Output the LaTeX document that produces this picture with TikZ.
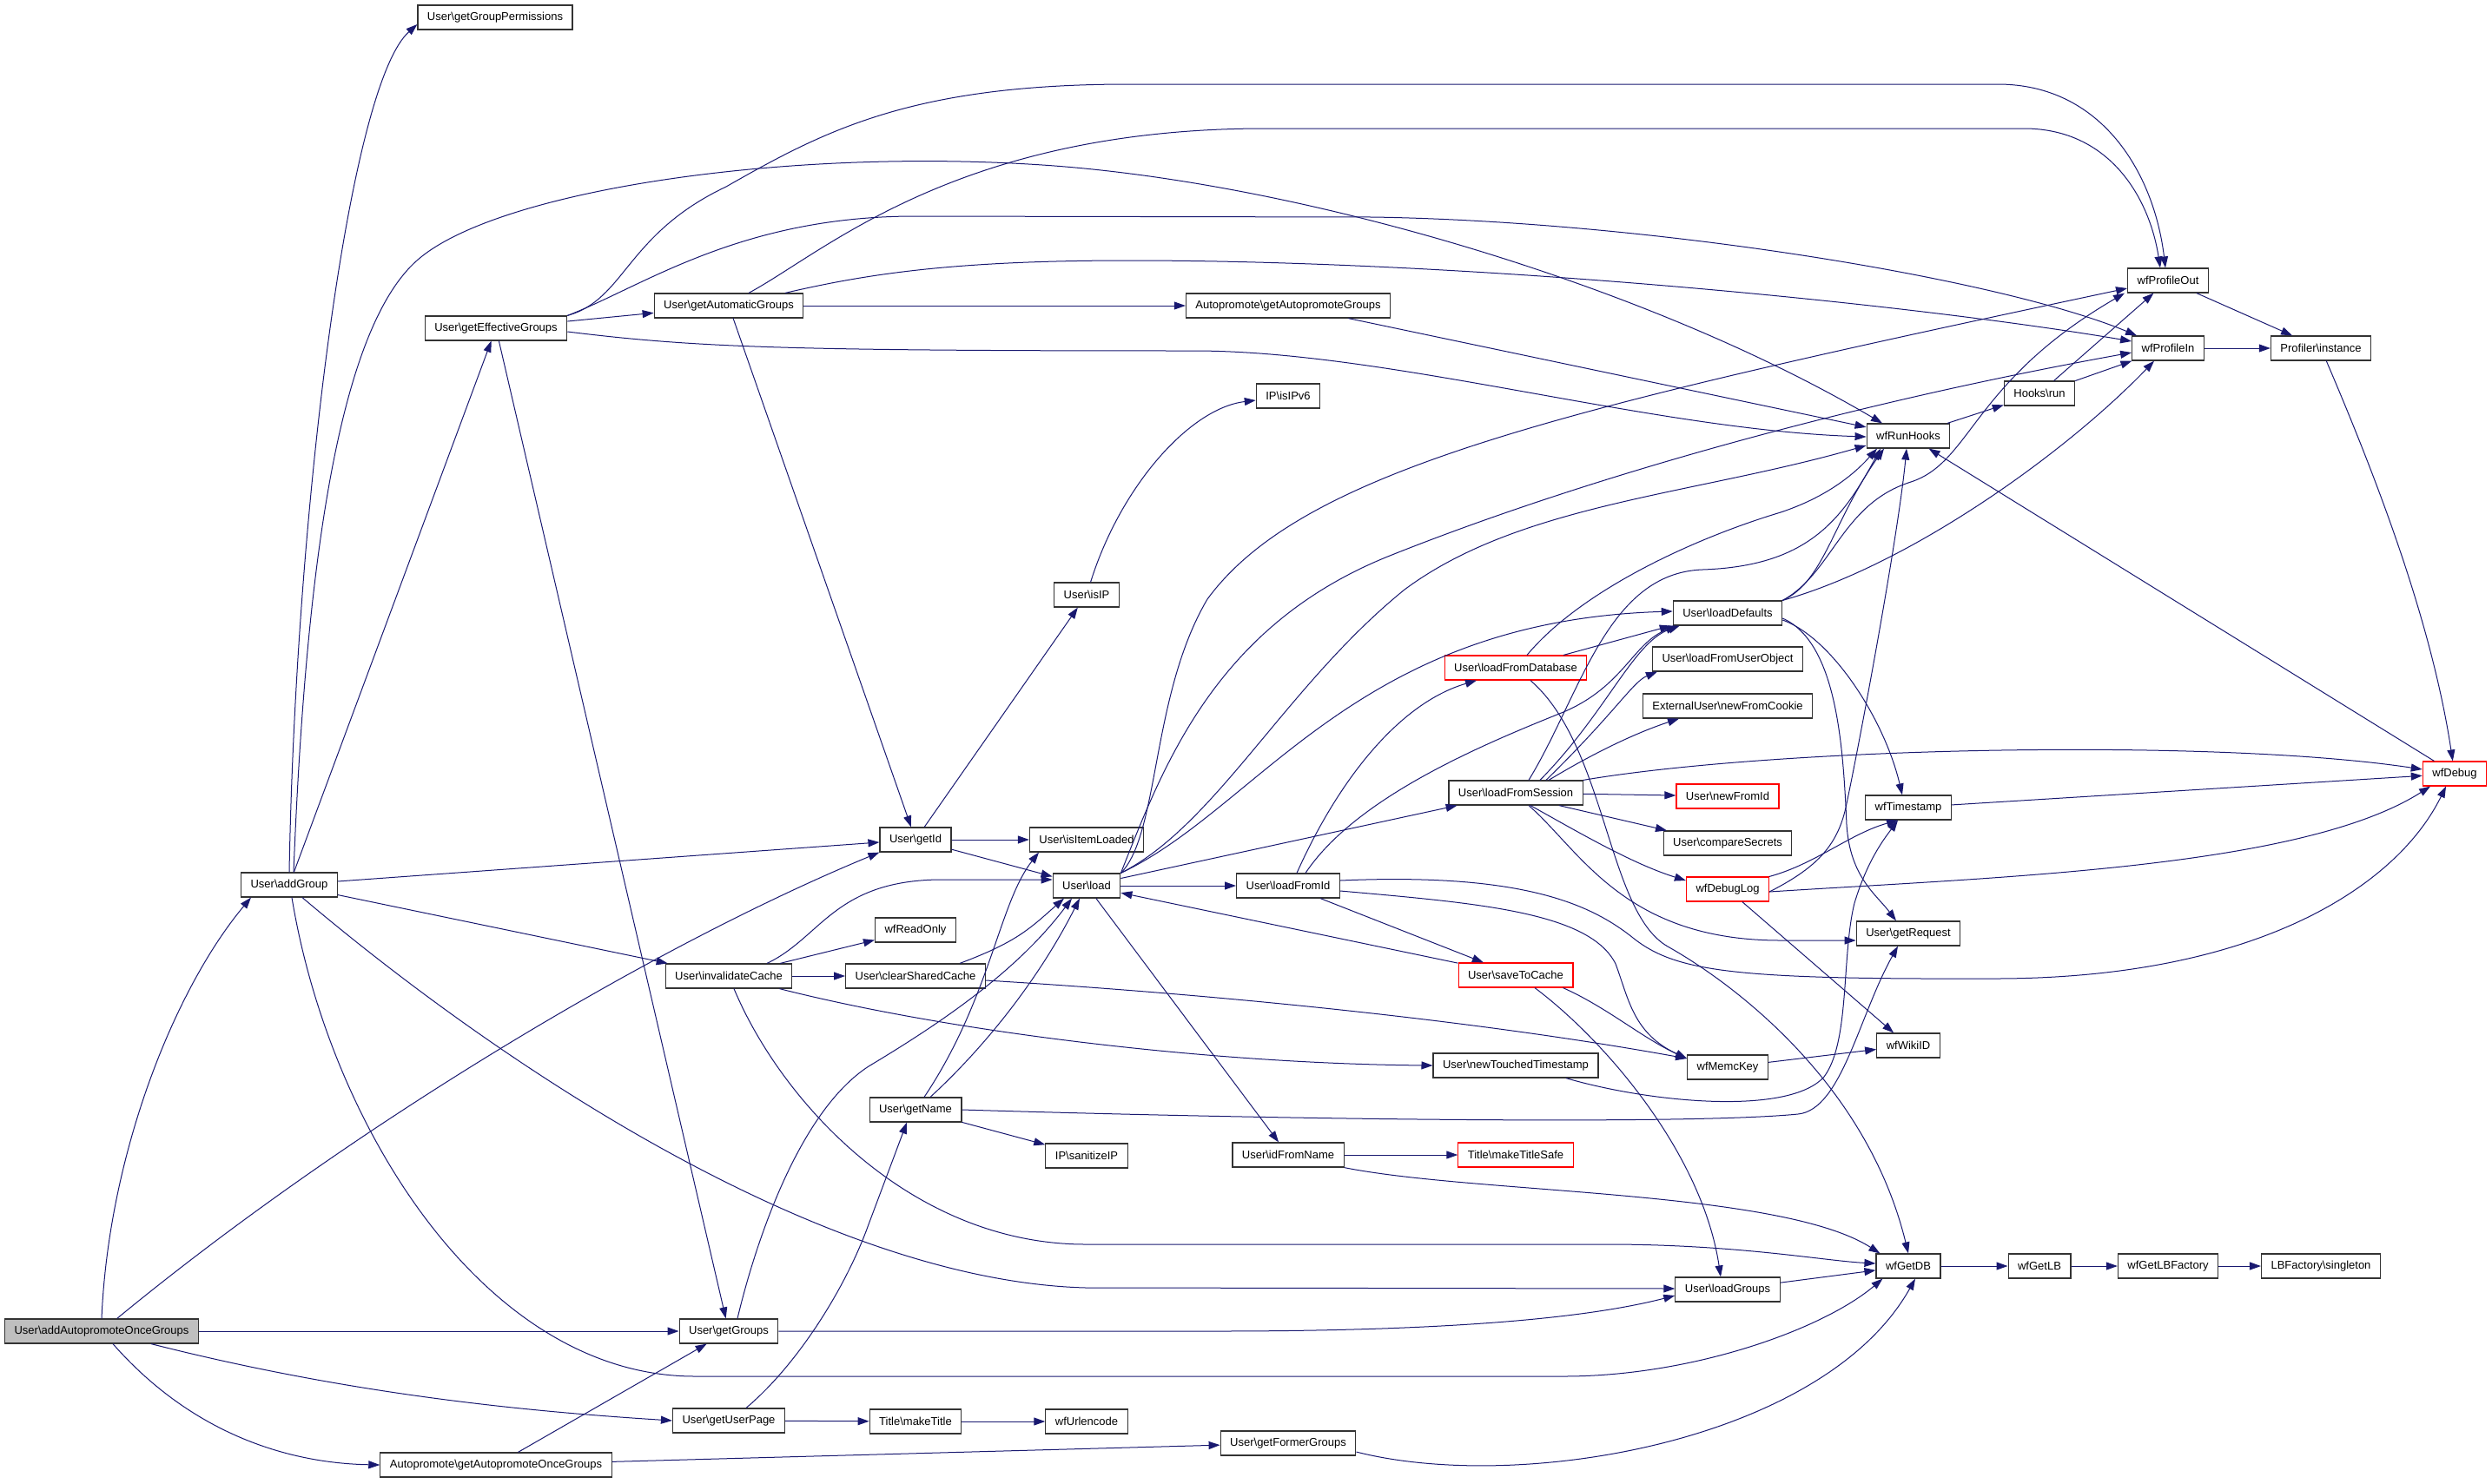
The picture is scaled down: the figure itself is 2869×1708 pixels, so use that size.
\documentclass[tikz,border=0pt]{standalone}
\usepackage{fontspec}
\setmainfont{Liberation Sans}
\usetikzlibrary{arrows.meta}
\definecolor{navy}{HTML}{191970}
\tikzstyle{fn} = [draw=black!80,line width=1.2pt,rectangle,inner xsep=11pt,inner ysep=0pt,minimum height=28pt,font=\fontsize{13}{15}\selectfont]
\tikzstyle{fnred} = [fn,draw=red]
\tikzstyle{root} = [fn,fill=black!25]
\tikzstyle{call} = [color=navy,line width=1pt,-{Triangle[length=13pt,width=9pt]}]
\newcommand{\bsl}{\textbackslash}

\begin{document}
\begin{tikzpicture}[x=1pt,y=-1pt]
\useasboundingbox (0,0) rectangle (2869,1708);

\node[root] (addAPOG) at (117,1533) {User\bsl addAutopromoteOnceGroups};
\node[fn] (addGroup) at (333,1019) {User\bsl addGroup};
\node[fn] (getGroupPerm) at (570,20) {User\bsl getGroupPermissions};
\node[fn] (getEffGroups) at (571,378) {User\bsl getEffectiveGroups};
\node[fn] (apGetAPOG) at (571,1687) {Autopromote\bsl getAutopromoteOnceGroups};
\node[fn] (getAutoGroups) at (839,352) {User\bsl getAutomaticGroups};
\node[fn] (invalidateCache) at (839,1124) {User\bsl invalidateCache};
\node[fn] (getGroups) at (839,1533) {User\bsl getGroups};
\node[fn] (getUserPage) at (839,1636) {User\bsl getUserPage};
\node[fn] (getId) at (1054,967) {User\bsl getId};
\node[fn] (wfReadOnly) at (1054,1071) {wfReadOnly};
\node[fn] (clearSharedCache) at (1054,1124) {User\bsl clearSharedCache};
\node[fn] (getName) at (1054,1278) {User\bsl getName};
\node[fn] (makeTitle) at (1054,1637) {Title\bsl makeTitle};
\node[fn] (isIP) at (1251,685) {User\bsl isIP};
\node[fn] (isItemLoaded) at (1251,967) {User\bsl isItemLoaded};
\node[fn] (load) at (1251,1020) {User\bsl load};
\node[fn] (sanitizeIP) at (1251,1331) {IP\bsl sanitizeIP};
\node[fn] (wfUrlencode) at (1251,1637) {wfUrlencode};
\node[fn] (apGetAPG) at (1483,352) {Autopromote\bsl getAutopromoteGroups};
\node[fn] (isIPv6) at (1483,456) {IP\bsl isIPv6};
\node[fn] (loadFromId) at (1483,1020) {User\bsl loadFromId};
\node[fn] (idFromName) at (1483,1330) {User\bsl idFromName};
\node[fn] (getFormerGroups) at (1483,1662) {User\bsl getFormerGroups};
\node[fnred] (loadFromDatabase) at (1745,769) {User\bsl loadFromDatabase};
\node[fn] (loadFromSession) at (1745,913) {User\bsl loadFromSession};
\node[fnred] (saveToCache) at (1745,1123) {User\bsl saveToCache};
\node[fn] (newTouchedTS) at (1745,1227) {User\bsl newTouchedTimestamp};
\node[fnred] (makeTitleSafe) at (1745,1330) {Title\bsl makeTitleSafe};
\node[fn] (loadDefaults) at (1989,706) {User\bsl loadDefaults};
\node[fn] (loadFromUserObject) at (1989,759) {User\bsl loadFromUserObject};
\node[fn] (newFromCookie) at (1989,813) {ExternalUser\bsl newFromCookie};
\node[fnred] (newFromId) at (1989,917) {User\bsl newFromId};
\node[fn] (compareSecrets) at (1989,971) {User\bsl compareSecrets};
\node[fnred] (wfDebugLog) at (1989,1024) {wfDebugLog};
\node[fn] (wfMemcKey) at (1989,1229) {wfMemcKey};
\node[fn] (loadGroups) at (1989,1485) {User\bsl loadGroups};
\node[fn] (wfRunHooks) at (2197,502) {wfRunHooks};
\node[fn] (wfTimestamp) at (2197,930) {wfTimestamp};
\node[fn] (getRequest) at (2197,1075) {User\bsl getRequest};
\node[fn] (wfWikiID) at (2197,1204) {wfWikiID};
\node[fn] (wfGetDB) at (2197,1458) {wfGetDB};
\node[fn] (hooksRun) at (2348,453) {Hooks\bsl run};
\node[fn] (wfGetLB) at (2348,1458) {wfGetLB};
\node[fn] (wfProfileOut) at (2496,323) {wfProfileOut};
\node[fn] (wfProfileIn) at (2496,401) {wfProfileIn};
\node[fn] (wfGetLBFactory) at (2496,1458) {wfGetLBFactory};
\node[fn] (profInstance) at (2672,401) {Profiler\bsl instance};
\node[fn] (lbSingleton) at (2672,1458) {LBFactory\bsl singleton};
\node[fnred] (wfDebug) at (2826,891) {wfDebug};

% calls of the root
\draw[call] (addAPOG.north) .. controls (125,1330) and (200,1140) .. ([xshift=12pt]addGroup.south west);
\draw[call] (addAPOG) .. controls (400,1300) and (750,1090) .. (getId.south west);
\draw[call] (addAPOG) -- (getGroups);
\draw[call] ([xshift=-55pt]addAPOG.south east) .. controls (400,1605) and (600,1625) .. (getUserPage.west);
\draw[call] ([xshift=13pt]addAPOG.south) .. controls (220,1650) and (330,1685) .. (apGetAPOG.west);

% User\addGroup
\draw[call] (addGroup.north) .. controls (340,600) and (400,100) .. ([yshift=-8pt]getGroupPerm.west);
\draw[call] ([xshift=5pt]addGroup.north) .. controls (352,650) and (390,380) .. (480,300) .. controls (570,220) and (900,170) .. (1200,190) .. controls (1500,210) and (1900,330) .. ([xshift=-30pt]wfRunHooks.north);
\draw[call] (addGroup) -- (getEffGroups);
\draw[call] (addGroup) -- (getId);
\draw[call] (addGroup) -- (invalidateCache);
\draw[call] ([xshift=15pt]addGroup.south) .. controls (580,1230) and (950,1475) .. (1250,1483) -- ([yshift=1pt]loadGroups.west);
\draw[call] ([xshift=3pt]addGroup.south) .. controls (380,1300) and (560,1585) .. (800,1585) -- (1800,1585) .. controls (1950,1585) and (2100,1530) .. ([xshift=8pt]wfGetDB.south west);

% User\getEffectiveGroups, User\getAutomaticGroups
\draw[call] (getEffGroups) -- (getAutoGroups);
\draw[call] (getEffGroups.north east) .. controls (720,345) and (720,270) .. (836,215) .. controls (950,150) and (1050,97) .. (1300,97) -- (2300,97) .. controls (2420,97) and (2480,200) .. ([xshift=-3pt]wfProfileOut.north);
\draw[call] (getEffGroups.north east) .. controls (740,330) and (850,250) .. (1050,249) -- (1580,250) .. controls (1900,255) and (2300,320) .. ([xshift=6pt]wfProfileIn.north west);
\draw[call] ([yshift=-4pt]getEffGroups.east) .. controls (800,400) and (900,404) .. (1374,404) .. controls (1600,404) and (1900,495) .. ([yshift=-1pt]wfRunHooks.west);
\draw[call] (getEffGroups) -- (getGroups);
\draw[call] ([xshift=23pt]getAutoGroups.north) .. controls (950,290) and (1100,150) .. (1450,148) -- (2330,148) .. controls (2430,148) and (2475,230) .. ([xshift=-9pt]wfProfileOut.north);
\draw[call] ([xshift=65pt]getAutoGroups.north) .. controls (1000,315) and (1100,300) .. (1300,300) .. controls (1700,300) and (2200,350) .. ([yshift=8pt]wfProfileIn.west);
\draw[call] (getAutoGroups) -- (apGetAPG);
\draw[call] (getAutoGroups) -- (getId);
\draw[call] (apGetAPG) -- (wfRunHooks);

% User\getId, User\load
\draw[call] (getId) -- (isIP);
\draw[call] (getId) -- (isItemLoaded);
\draw[call] (getId) -- (load);
\draw[call] (isIP) .. controls (1290,560) and (1370,470) .. ([yshift=-5pt]isIPv6.west);
\draw[call] (load.north east) .. controls (1335,960) and (1325,800) .. (1390,690) .. controls (1500,540) and (1800,470) .. ([yshift=-9pt]wfProfileOut.west);
\draw[call] (load.north east) .. controls (1340,880) and (1400,720) .. (1600,640) .. controls (1800,560) and (2100,470) .. ([yshift=-5pt]wfProfileIn.west);
\draw[call] (load.north east) .. controls (1400,950) and (1480,790) .. (1617,679) .. controls (1750,580) and (1950,570) .. ([yshift=-11pt]wfRunHooks.west);
\draw[call] (load.north east) .. controls (1450,930) and (1560,715) .. ([yshift=2pt]loadDefaults.west);
\draw[call] (load) -- (loadFromSession);
\draw[call] (load) -- (loadFromId);
\draw[call] (load) -- (idFromName);

% User\loadFromId, User\saveToCache, User\loadFromDatabase
\draw[call] ([xshift=10pt]loadFromId.north) .. controls (1540,900) and (1610,810) .. ([xshift=-45pt]loadFromDatabase.south);
\draw[call] ([xshift=20pt]loadFromId.north) .. controls (1560,920) and (1700,860) .. (1800,820) .. controls (1870,790) and (1880,740) .. ([xshift=5pt]loadDefaults.south west);
\draw[call] (loadFromId) -- (saveToCache);
\draw[call] ([yshift=-6pt]loadFromId.east) .. controls (1700,1040) and (1830,1050) .. (1860,1110) .. controls (1875,1150) and (1880,1190) .. ([yshift=10pt]wfMemcKey.west);
\draw[call] ([yshift=6pt]loadFromId.east) .. controls (1750,1005) and (1830,1040) .. (1880,1080) .. controls (1930,1120) and (2000,1128) .. (2300,1127) .. controls (2600,1126) and (2760,1020) .. ([xshift=-10pt]wfDebug.south);
\draw[call] (saveToCache) -- (load);
\draw[call] ([xshift=-12pt]saveToCache.south east) .. controls (1850,1160) and (1890,1195) .. ([yshift=10pt]wfMemcKey.west);
\draw[call] ([xshift=22pt]saveToCache.south) .. controls (1850,1200) and (1960,1330) .. ([xshift=-8pt]loadGroups.north);
\draw[call] ([xshift=55pt]loadFromDatabase.north) -- ([xshift=-2pt]loadDefaults.south west);
\draw[call] ([xshift=13pt]loadFromDatabase.north) .. controls (1820,680) and (1950,620) .. (2050,590) .. controls (2110,570) and (2140,540) .. ([xshift=-36pt]wfRunHooks.south);
\draw[call] ([xshift=17pt]loadFromDatabase.south) .. controls (1850,860) and (1850,1050) .. (1920,1090) .. controls (2000,1135) and (2150,1250) .. (wfGetDB.north);

% User\loadFromSession
\draw[call] ([xshift=28pt]loadFromSession.north) .. controls (1850,820) and (1880,740) .. ([xshift=8pt]loadDefaults.south west);
\draw[call] ([xshift=35pt]loadFromSession.north) .. controls (1860,820) and (1880,785) .. ([xshift=6pt]loadFromUserObject.south west);
\draw[call] ([xshift=38pt]loadFromSession.north) .. controls (1830,870) and (1880,845) .. ([xshift=-56pt]newFromCookie.south);
\draw[call] ([xshift=15pt]loadFromSession.north) .. controls (1820,800) and (1850,660) .. (1960,656) .. controls (2080,652) and (2120,600) .. ([xshift=-32pt]wfRunHooks.south);
\draw[call] (loadFromSession.north east) .. controls (2050,860) and (2550,850) .. ([yshift=5pt]wfDebug.west);
\draw[call] (loadFromSession) -- (newFromId);
\draw[call] ([xshift=50pt]loadFromSession.south) -- ([xshift=-70pt]compareSecrets.north);
\draw[call] ([xshift=17pt]loadFromSession.south) .. controls (1820,960) and (1880,995) .. ([yshift=10pt]wfDebugLog.west);
\draw[call] ([xshift=15pt]loadFromSession.south) .. controls (1820,980) and (1870,1083) .. (2050,1083) -- ([yshift=-8pt]getRequest.west);

% User\loadDefaults
\draw[call] (loadDefaults.north east) .. controls (2100,670) and (2110,600) .. ([xshift=-28pt]wfRunHooks.south);
\draw[call] (loadDefaults.north east) .. controls (2110,660) and (2120,580) .. (2200,555) .. controls (2270,532) and (2270,440) .. ([xshift=-3pt]wfProfileOut.south west);
\draw[call] (loadDefaults.north east) .. controls (2200,650) and (2380,520) .. ([xshift=-16pt]wfProfileIn.south);
\draw[call] ([yshift=-8pt]loadDefaults.east) .. controls (2110,735) and (2170,830) .. ([xshift=-7pt]wfTimestamp.north);
\draw[call] ([yshift=-6pt]loadDefaults.east) .. controls (2115,740) and (2122,860) .. (2126,950) .. controls (2130,1010) and (2160,1030) .. ([xshift=-14pt]getRequest.north);

% hooks and profiling
\draw[call] (wfRunHooks) -- (hooksRun);
\draw[call] (hooksRun) -- (wfProfileOut);
\draw[call] (hooksRun) -- (wfProfileIn);
\draw[call] (wfProfileOut) -- (profInstance);
\draw[call] (wfProfileIn) -- (profInstance);
\draw[call] (profInstance) .. controls (2740,560) and (2800,720) .. (wfDebug);
\draw[call] (wfDebug) -- (wfRunHooks);
\draw[call] (wfTimestamp) -- (wfDebug);

% wfDebugLog
\draw[call] (wfDebugLog.north east) .. controls (2090,995) and (2130,960) .. ([xshift=-12pt]wfTimestamp.south);
\draw[call] ([yshift=-3pt]wfDebugLog.east) .. controls (2090,1000) and (2115,975) .. (2125,930) .. controls (2140,860) and (2185,620) .. ([xshift=-2pt]wfRunHooks.south);
\draw[call] ([yshift=-3pt]wfDebugLog.east) .. controls (2300,1010) and (2650,1000) .. ([xshift=-28pt]wfDebug.south);
\draw[call] (wfDebugLog) -- (wfWikiID);
\draw[call] (wfMemcKey) -- (wfWikiID);

% timestamp and request
\draw[call] ([xshift=58pt]newTouchedTS.south) .. controls (1900,1270) and (2060,1285) .. (2100,1240) .. controls (2130,1200) and (2120,1100) .. (2135,1040) .. controls (2150,990) and (2170,965) .. ([xshift=-12pt]wfTimestamp.south);
\draw[call] (getName.east) .. controls (1500,1290) and (1950,1295) .. (2070,1283) .. controls (2120,1278) and (2140,1170) .. ([xshift=-12pt]getRequest.south);

% User\getName, User\getGroups, User\getUserPage
\draw[call] (getName) -- (sanitizeIP);
\draw[call] ([xshift=10pt]getName.north) .. controls (1140,1150) and (1150,1040) .. ([xshift=-55pt]isItemLoaded.south);
\draw[call] ([xshift=17pt]getName.north) .. controls (1140,1200) and (1200,1120) .. ([xshift=-8pt]load.south);
\draw[call] ([xshift=10pt]getGroups.north) .. controls (870,1430) and (920,1280) .. (1000,1228) .. controls (1080,1180) and (1170,1120) .. ([xshift=-17pt]load.south);
\draw[call] (getGroups.east) -- (1400,1533) .. controls (1650,1533) and (1820,1520) .. ([yshift=-7pt]loadGroups.west);
\draw[call] ([xshift=20pt]getUserPage.north) .. controls (920,1570) and (975,1480) .. (1000,1410) -- ([xshift=-10pt]getName.south);
\draw[call] (getUserPage) -- (makeTitle);
\draw[call] (makeTitle) -- (wfUrlencode);
\draw[call] (apGetAPOG) -- (getGroups);
\draw[call] (apGetAPOG) -- (getFormerGroups);
\draw[call] ([yshift=-10pt]getFormerGroups.east) .. controls (1750,1720) and (2100,1660) .. ([xshift=8pt]wfGetDB.south);
\draw[call] (idFromName) -- (makeTitleSafe);
\draw[call] (idFromName.south east) .. controls (1700,1375) and (2050,1370) .. ([xshift=5pt]wfGetDB.north west);

% User\invalidateCache, User\clearSharedCache
\draw[call] ([xshift=44pt]invalidateCache.north) .. controls (945,1080) and (960,1015) .. (1080,1013) -- ([yshift=7pt]load.west);
\draw[call] (invalidateCache) -- (wfReadOnly);
\draw[call] (invalidateCache) -- (clearSharedCache);
\draw[call] ([xshift=-15pt]invalidateCache.south east) .. controls (1100,1190) and (1400,1225) .. (newTouchedTS.west);
\draw[call] ([xshift=6pt]invalidateCache.south) .. controls (900,1270) and (1050,1433) .. (1250,1433) -- (1850,1433) .. controls (2000,1433) and (2100,1452) .. ([yshift=3pt]wfGetDB.west);
\draw[call] ([xshift=-30pt]clearSharedCache.north east) .. controls (1170,1085) and (1185,1070) .. ([xshift=-26pt]load.south);
\draw[call] ([yshift=-5pt]clearSharedCache.east) .. controls (1400,1145) and (1700,1175) .. ([yshift=10pt]wfMemcKey.west);

% database chain
\draw[call] (loadGroups) -- (wfGetDB);
\draw[call] (wfGetDB) -- (wfGetLB);
\draw[call] (wfGetLB) -- (wfGetLBFactory);
\draw[call] (wfGetLBFactory) -- (lbSingleton);
\end{tikzpicture}
\end{document}
